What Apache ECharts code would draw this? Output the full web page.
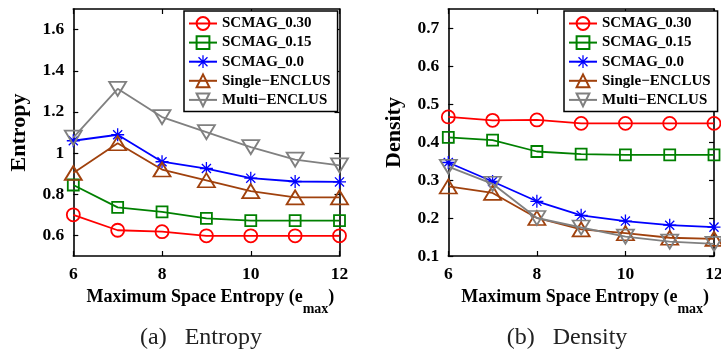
<!DOCTYPE html>
<html>
<head>
<meta charset="utf-8">
<script src="https://cdn.jsdelivr.net/npm/echarts@6/dist/echarts.min.js"></script>
<style>
html,body{margin:0;padding:0;background:#fff;}
#chart{width:721px;height:350px;}
</style>
</head>
<body>
<div id="chart"></div>
<script>
// ---- data ----
const xValues = [6, 7, 8, 9, 10, 11, 12];
const xTicks = [6, 8, 10, 12];
const seriesNames = ['SCMAG_0.30', 'SCMAG_0.15', 'SCMAG_0.0', 'Single\u2212ENCLUS', 'Multi\u2212ENCLUS'];

const entropyScmag030 = [0.70, 0.625, 0.618, 0.598, 0.598, 0.598, 0.598];
const entropyScmag015 = [0.845, 0.736, 0.714, 0.683, 0.672, 0.672, 0.672];
const entropyScmag00  = [1.060, 1.089, 0.958, 0.925, 0.878, 0.862, 0.860];
const entropySingle   = [0.903, 1.048, 0.920, 0.868, 0.815, 0.785, 0.785];
const entropyMulti    = [1.075, 1.312, 1.175, 1.102, 1.029, 0.968, 0.940];
const entropyTicks = [0.6, 0.8, 1, 1.2, 1.4, 1.6];

const densityScmag030 = [0.466, 0.457, 0.458, 0.449, 0.449, 0.449, 0.449];
const densityScmag015 = [0.412, 0.405, 0.375, 0.368, 0.366, 0.366, 0.366];
const densityScmag00  = [0.346, 0.296, 0.244, 0.207, 0.192, 0.181, 0.176];
const densitySingle   = [0.283, 0.266, 0.200, 0.170, 0.160, 0.148, 0.145];
const densityMulti    = [0.335, 0.290, 0.200, 0.175, 0.151, 0.138, 0.132];
const densityTicks = [0.1, 0.2, 0.3, 0.4, 0.5, 0.6, 0.7];

const entropyData = [entropyScmag030, entropyScmag015, entropyScmag00, entropySingle, entropyMulti];
const densityData = [densityScmag030, densityScmag015, densityScmag00, densitySingle, densityMulti];

// ---- styles ----
const FONT = '"Liberation Serif", "Times New Roman", serif';
const starPath = 'path://M-10,-1L10,-1L10,1L-10,1Z M1,-10L1,10L-1,10L-1,-10Z M-6.3,-7.7L7.7,6.3L6.3,7.7L-7.7,-6.3Z M-7.7,6.3L6.3,-7.7L7.7,-6.3L-6.3,7.7Z';
const markStyles = [
  {color: '#ff0000', symbol: 'circle', size: 13, hollow: true, rotate: 0},
  {color: '#008000', symbol: 'rect', size: 11, hollow: true, rotate: 0},
  {color: '#0000ff', symbol: starPath, size: 13, hollow: false, rotate: 0},
  {color: '#a0410d', symbol: 'triangle', size: [17, 14], hollow: true, rotate: 0},
  {color: '#808080', symbol: 'triangle', size: [17, 14], hollow: true, rotate: 180}
];

function makeSeries(dataSet, axisIdx) {
  return dataSet.map((vals, k) => {
    const st = markStyles[k];
    return {
      name: seriesNames[k],
      type: 'line',
      xAxisIndex: axisIdx,
      yAxisIndex: axisIdx,
      data: xValues.map((x, i) => [x, vals[i]]),
      symbol: st.symbol,
      symbolSize: st.size,
      symbolRotate: st.rotate,
      showAllSymbol: true,
      clip: false,
      z: 3 + k * 0.1,
      lineStyle: {color: st.color, width: 1.8},
      itemStyle: st.hollow
        ? {color: 'rgba(255,255,255,0)', borderColor: st.color, borderWidth: 1.8}
        : {color: st.color, borderWidth: 0},
      emphasis: {disabled: true}
    };
  });
}

const axisLineStyle = {show: true, onZero: false, lineStyle: {color: '#000', width: 1.6}};
const tickStyle = {show: true, inside: true, length: 5, lineStyle: {color: '#000', width: 1.2}};
const labelStyle = {fontFamily: FONT, fontWeight: 'bold', fontSize: 17.5, color: '#000'};

function xAxes(gridIndex) {
  return [
    {
      gridIndex, type: 'value', position: 'bottom', min: 6, max: 12, interval: 2,
      axisLine: axisLineStyle,
      axisTick: Object.assign({customValues: xTicks}, tickStyle),
      axisLabel: Object.assign({customValues: xTicks, margin: 9}, labelStyle),
      splitLine: {show: false},
      name: '{a|Maximum Space Entropy (e}{s|max}{a|)}',
      nameLocation: 'middle',
      nameGap: 26,
      nameTextStyle: {
        padding: [0, 0, 0, 8],
        rich: {
          a: {fontFamily: FONT, fontWeight: 'bold', fontSize: 18, lineHeight: 18, color: '#000', verticalAlign: 'top'},
          s: {fontFamily: FONT, fontWeight: 'bold', fontSize: 14, lineHeight: 14, color: '#000', verticalAlign: 'top', padding: [14, 0, 0, 0]}
        }
      }
    },
    {
      gridIndex, type: 'value', position: 'top', min: 6, max: 12, interval: 2,
      axisLine: axisLineStyle,
      axisTick: Object.assign({customValues: xTicks}, tickStyle),
      axisLabel: {show: false},
      splitLine: {show: false}
    }
  ];
}

function yAxes(gridIndex, min, max, ticks, name) {
  return [
    {
      gridIndex, type: 'value', position: 'left', min, max,
      axisLine: axisLineStyle,
      axisTick: Object.assign({customValues: ticks}, tickStyle),
      axisLabel: Object.assign({customValues: ticks, margin: 9}, labelStyle),
      splitLine: {show: false},
      name,
      nameLocation: 'middle',
      nameGap: 43,
      nameTextStyle: {fontFamily: FONT, fontWeight: 'bold', fontSize: 22, color: '#000'}
    },
    {
      gridIndex, type: 'value', position: 'right', min, max,
      axisLine: axisLineStyle,
      axisTick: Object.assign({customValues: ticks}, tickStyle),
      axisLabel: {show: false},
      splitLine: {show: false}
    }
  ];
}

function legendAt(left) {
  return {
    data: seriesNames,
    orient: 'vertical',
    left, top: 11,
    itemWidth: 28,
    itemHeight: 16,
    itemGap: 4.1,
    padding: [5, 7, 4, 4],
    borderColor: '#000',
    borderWidth: 1.5,
    backgroundColor: '#fff',
    z: 10,
    textStyle: {fontFamily: FONT, fontWeight: 'bold', fontSize: 15, color: '#000'}
  };
}

const xa0 = xAxes(0), xa1 = xAxes(1);
const ya0 = yAxes(0, 0.5, 1.7, entropyTicks, 'Entropy');
const ya1 = yAxes(1, 0.1, 0.75, densityTicks, 'Density');

const chart = echarts.init(document.getElementById('chart'), null, {renderer: 'canvas'});
chart.setOption({
  animation: false,
  backgroundColor: '#fff',
  grid: [
    {left: 73.3, top: 9, width: 266.2, height: 247, outerBoundsMode: 'none', containLabel: false},
    {left: 448.3, top: 9, width: 265.7, height: 247, outerBoundsMode: 'none', containLabel: false}
  ],
  xAxis: [xa0[0], xa1[0], xa0[1], xa1[1]],
  yAxis: [ya0[0], ya1[0], ya0[1], ya1[1]],
  legend: [legendAt(184), legendAt(564)],
  series: makeSeries(entropyData, 0).concat(makeSeries(densityData, 1)),
  graphic: [
    {type: 'text', x: 201, y: 338, style: {text: '(a)\u2002 Entropy', align: 'center', verticalAlign: 'middle', font: '24px "Liberation Serif", serif', fill: '#222'}},
    {type: 'text', x: 567, y: 338, style: {text: '(b)\u2002 Density', align: 'center', verticalAlign: 'middle', font: '24px "Liberation Serif", serif', fill: '#222'}}
  ]
});
</script>
</body>
</html>
